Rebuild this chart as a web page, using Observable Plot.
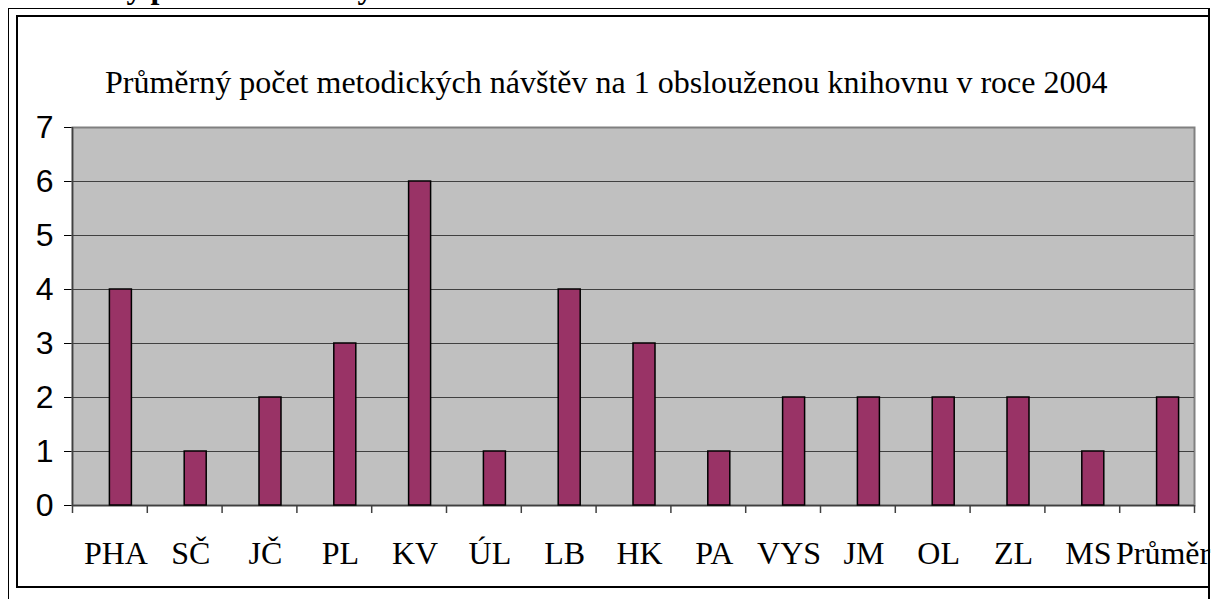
<!DOCTYPE html>
<html>
<head>
<meta charset="utf-8">
<script src="https://cdn.jsdelivr.net/npm/d3@7"></script>
<script src="https://cdn.jsdelivr.net/npm/@observablehq/plot@0.6"></script>
<style>
  html, body { margin: 0; padding: 0; background: #fff; }
  #page { position: relative; width: 1220px; height: 599px; overflow: hidden; background: #fff; }
  #page svg { position: absolute; left: 0; top: 0; }
  .abs { position: absolute; }
  #heading { left: 2px; top: -29px; font: bold 32px/32px "Liberation Serif", serif; white-space: nowrap; color: #000; }
  #outer { left: 8px; top: 8px; width: 1199px; height: 700px; border-left: 1px solid #000; border-top: 1px solid #000; border-right: 2px solid #000; }
  #inner { left: 16px; top: 15px; width: 1191px; height: 569px; border-left: 2px solid #000; border-top: 2px solid #000; border-bottom: 2px solid #000; }
  #title { left: 105px; top: 66px; font: 32px/32px "Liberation Serif", serif; white-space: nowrap; color: #000; }
</style>
</head>
<body>
<div id="page">
  <div id="heading" class="abs">Průměrný počet metodických návštěv</div>
  <div id="outer" class="abs"></div>
  <div id="inner" class="abs"></div>
  <div id="title" class="abs">Průměrný počet metodických návštěv na 1 obslouženou knihovnu v roce 2004</div>
</div>
<script>
const categories = ["PHA", "SČ", "JČ", "PL", "KV", "ÚL", "LB", "HK", "PA", "VYS", "JM", "OL", "ZL", "MS", "Průměr"];
const values = [4, 1, 2, 3, 6, 1, 4, 3, 1, 2, 2, 2, 2, 1, 2];
const yTicks = [0, 1, 2, 3, 4, 5, 6, 7];
const gridValues = [1, 2, 3, 4, 5, 6];

const data = categories.map((c, i) => ({cat: c, value: values[i]}));

const W = 1220, H = 599;
const mL = 72, mR = 26, mT = 127, mB = 94;
const band = (W - mL - mR) / categories.length;

const chart = Plot.plot({
  width: W,
  height: H,
  marginLeft: mL,
  marginRight: mR,
  marginTop: mT,
  marginBottom: mB,
  style: {background: "transparent", fontFamily: "Liberation Sans, Arial, sans-serif", fontSize: "32px", color: "#000", overflow: "visible"},
  x: {domain: categories, padding: 0, round: false, axis: null},
  y: {domain: [0, 7], ticks: yTicks, tickSize: 8, tickPadding: 11, label: null, tickFormat: d => String(d)},
  marks: [
    Plot.frame({fill: "#c0c0c0", stroke: "#808080", strokeWidth: 2}),
    Plot.ruleY(gridValues, {stroke: "#404040", strokeWidth: 1}),
    Plot.ruleY([0], {stroke: "#404040", strokeWidth: 1.5}),
    Plot.ruleX([categories[0]], {dx: -band / 2, y1: 7, y2: 0, stroke: "#404040", strokeWidth: 1.5}),
    Plot.ruleX(categories, {dx: -band / 2, y1: 0, y2: 0, insetBottom: -8, stroke: "#404040", strokeWidth: 1.5}),
    Plot.ruleX([categories[categories.length - 1]], {dx: band / 2, y1: 0, y2: 0, insetBottom: -8, stroke: "#404040", strokeWidth: 1.5}),
    Plot.barY(data, {x: "cat", y: "value", fill: "#993366", stroke: "#000", strokeWidth: 1.5, insetLeft: band / 2, insetRight: band / 2 - 22}),
    Plot.text(data, {x: "cat", frameAnchor: "bottom", text: "cat", lineAnchor: "bottom", dy: 58, dx: 6, fontSize: 32, fontFamily: "Liberation Serif, Times New Roman, serif", fill: "#000"})
  ]
});
document.getElementById("page").insertBefore(chart, document.getElementById("title"));
</script>
</body>
</html>
